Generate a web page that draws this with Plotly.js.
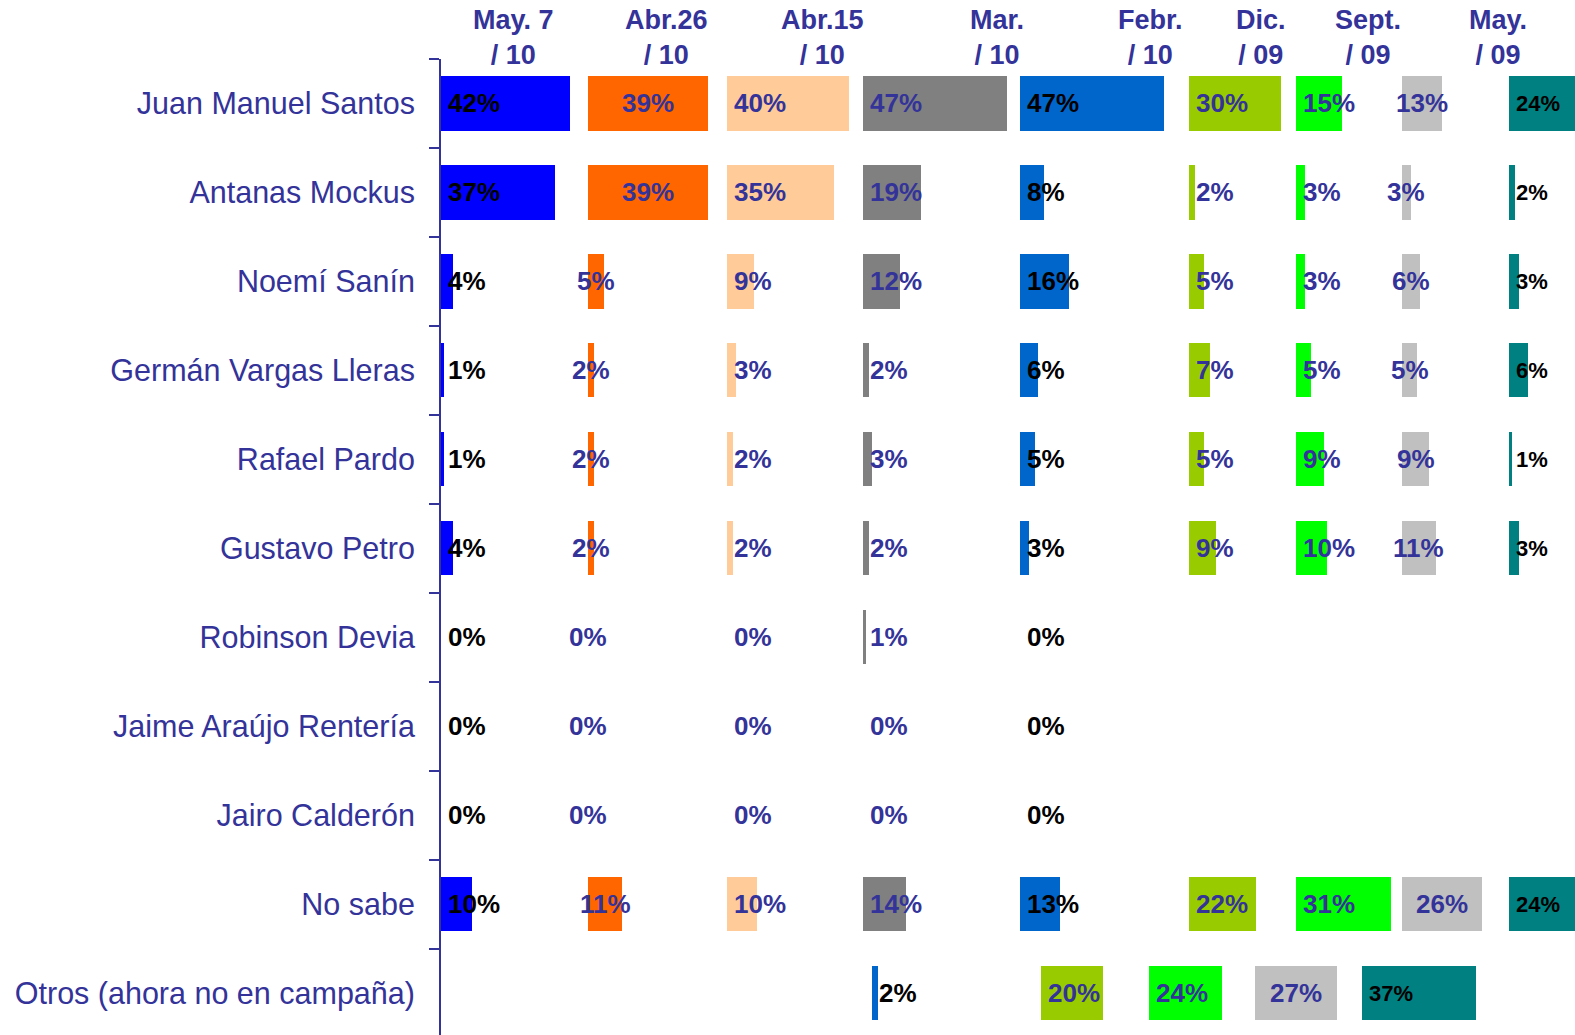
<!DOCTYPE html>
<html>
<head>
<meta charset="utf-8">
<script src="https://cdn.plot.ly/plotly-3.0.1.min.js"></script>
<style>html,body{margin:0;padding:0;background:#fff;}#chart{width:1575px;height:1035px;}</style>
</head>
<body>
<div id="chart"></div>
<script>
// ---- Data ----
const categories = ["Juan Manuel Santos","Antanas Mockus","Noemí Sanín","Germán Vargas Lleras","Rafael Pardo","Gustavo Petro","Robinson Devia","Jaime Araújo Rentería","Jairo Calderón","No sabe","Otros (ahora no en campaña)"];
const may7_10  = [42,37,4,1,1,4,0,0,0,10,null];
const abr26_10 = [39,39,5,2,2,2,0,0,0,11,null];
const abr15_10 = [40,35,9,3,2,2,0,0,0,10,null];
const mar_10   = [47,19,12,2,3,2,1,0,0,14,null];
const febr_10  = [47,8,16,6,5,3,0,0,0,13,2];
const dic_09   = [30,2,5,7,5,9,null,null,null,22,20];
const sept_09  = [15,3,3,5,9,10,null,null,null,31,24];
const gris_09  = [13,3,6,5,9,11,null,null,null,26,27];
const may_09   = [24,2,3,6,1,3,null,null,null,24,37];
const headerLabels = ["May. 7<br>/ 10","Abr.26<br>/ 10","Abr.15<br>/ 10","Mar.<br>/ 10","Febr.<br>/ 10","Dic.<br>/ 09","Sept.<br>/ 09","May.<br>/ 09"];

// ---- Layout / style ----
const series = [may7_10, abr26_10, abr15_10, mar_10, febr_10, dic_09, sept_09, gris_09, may_09];
const panelWidth = [48, 45, 44.5, 51, 55, 35, 34.5, 35]; // invisible spacer totals between panels
const headerX = [23.5, 73.6, 124.4, 181.1, 231, 267.1, 302, 344.3];
const colors = ['#0000FF','#FF6600','#FFCC99','#808080','#0066CC','#99CC00','#00FF00','#C0C0C0','#008080'];
const labelColors = ['#000000','#333399','#333399','#333399','#000000','#333399','#333399','#333399','#000000'];
const centered = [false,true,false,false,false,false,false,true,false];
const labelSize = [26,26,26,26,26,26,26,26,22];
const NAVY = '#333399';
const FONT = 'Arial, "Liberation Sans", sans-serif';
const otrosRow = categories.length - 1;

const traces = [];
const annotations = [];
const running = categories.map(() => 0);

series.forEach((vals, i) => {
  traces.push({
    type: 'bar', orientation: 'h', y: categories, x: vals,
    marker: {color: colors[i], line: {width: 0}},
    hoverinfo: 'skip', showlegend: false
  });
  vals.forEach((v, r) => {
    if (v === null || v === undefined) return;
    const base = running[r];
    annotations.push({
      xref: 'x', yref: 'y',
      x: centered[i] ? base + v / 2 : base,
      y: categories[r],
      xanchor: centered[i] ? 'center' : 'left',
      yanchor: 'middle',
      xshift: centered[i] ? 0 : 5,
      text: v + '%',
      showarrow: false,
      font: {family: FONT, size: labelSize[i], color: labelColors[i], weight: 'bold'}
    });
  });
  vals.forEach((v, r) => { running[r] += (v || 0); });
  if (i < panelWidth.length) {
    // in the source the "Otros" row has no spacer after the first panel
    const sp = vals.map((v, r) => (r === otrosRow && i === 0) ? 0 : panelWidth[i] - (v || 0));
    traces.push({
      type: 'bar', orientation: 'h', y: categories, x: sp,
      marker: {color: 'rgba(0,0,0,0)', line: {width: 0}},
      hoverinfo: 'skip', showlegend: false
    });
    sp.forEach((s, r) => { running[r] += s; });
  }
});

headerLabels.forEach((t, k) => {
  annotations.push({
    xref: 'x', yref: 'paper', x: headerX[k], y: 1,
    xanchor: 'center', yanchor: 'top', yshift: 56,
    text: '<b>' + t + '</b>', showarrow: false, align: 'center',
    font: {family: FONT, size: 27, color: NAVY}
  });
});

const layout = {
  width: 1575, height: 1035,
  margin: {l: 441, r: 0, t: 59, b: 0, pad: 0},
  paper_bgcolor: '#ffffff', plot_bgcolor: '#ffffff',
  barmode: 'stack', bargap: 0.39,
  showlegend: false, hovermode: false,
  xaxis: {range: [0, 369.4], visible: false, fixedrange: true},
  yaxis: {
    type: 'category', range: [10.472, -0.5], autorange: false,
    tickson: 'boundaries', ticks: 'outside', ticklen: 10, tickwidth: 2, tickcolor: NAVY,
    showline: true, linecolor: NAVY, linewidth: 2,
    showgrid: false, zeroline: false, ticklabelstandoff: 18,
    tickfont: {family: FONT, size: 30.5, color: NAVY},
    fixedrange: true
  },
  annotations: annotations
};

Plotly.newPlot('chart', traces, layout, {displayModeBar: false, staticPlot: true});
</script>
</body>
</html>
